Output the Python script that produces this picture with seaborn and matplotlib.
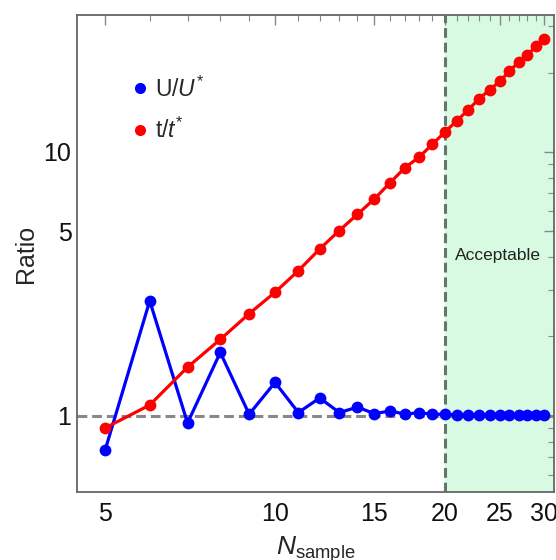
import numpy as np
import pandas as pd
import seaborn as sns
import matplotlib

matplotlib.use("Agg")
import matplotlib.pyplot as plt
from matplotlib.ticker import FixedLocator, FixedFormatter, NullFormatter, LogLocator

# Data
n_sample = list(range(5, 31))
u_ratio = [0.74, 2.73, 0.94, 1.74, 1.015, 1.34, 1.03, 1.17, 1.03, 1.08,
           1.02, 1.045, 1.015, 1.03, 1.015, 1.015, 1.01, 1.01, 1.01, 1.01,
           1.01, 1.01, 1.01, 1.01, 1.01, 1.01]
t_ratio = [0.90, 1.10, 1.53, 1.95, 2.44, 2.94, 3.55, 4.29, 5.04, 5.81,
           6.64, 7.66, 8.73, 9.56, 10.7, 11.9, 13.15, 14.44, 15.94, 17.2,
           18.5, 20.2, 21.9, 23.3, 25.2, 26.8]

x_major = [5, 10, 15, 20, 25, 30]
y_major = [1, 5, 10]
threshold = 20

df = pd.DataFrame({"N": n_sample, "U": u_ratio, "t": t_ratio})

sns.set_style("white")
plt.rcParams["font.family"] = ["Liberation Sans", "DejaVu Sans"]
plt.rcParams["mathtext.fontset"] = "custom"
plt.rcParams["mathtext.rm"] = "Liberation Sans"
plt.rcParams["mathtext.it"] = "Liberation Sans:italic"

fig, ax = plt.subplots(figsize=(5.56, 5.60), dpi=100)
fig.subplots_adjust(left=0.1385, right=0.9964, top=0.973, bottom=0.1214)

ax.set_xscale("log")
ax.set_yscale("log")
ax.set_xlim(4.46, 31.2)
ax.set_ylim(0.515, 33)

# acceptable region
ax.axvspan(threshold, 40, color="#d8f9e2", zorder=0)
ax.axvline(threshold, color="#5f786c", lw=2.2, ls=(0, (3.2, 1.6)), zorder=1)
ax.axhline(1, color="#888888", lw=2.2, ls=(0, (3.2, 1.6)), zorder=1)

sns.lineplot(data=df, x="N", y="U", ax=ax, color="#0000ff", lw=2.3,
             marker="o", markersize=8.5, markeredgewidth=0, label=r"U/$U^{*}$",
             zorder=3)
sns.lineplot(data=df, x="N", y="t", ax=ax, color="#ff0000", lw=2.3,
             marker="o", markersize=8.5, markeredgewidth=0, label=r"t/$t^{*}$",
             zorder=4)

ax.text(0.882, 0.495, "Acceptable", transform=ax.transAxes, ha="center",
        va="center", fontsize=12.5, color="#222222")

# ticks
ax.xaxis.set_major_locator(FixedLocator(x_major))
ax.xaxis.set_major_formatter(FixedFormatter([str(v) for v in x_major]))
ax.xaxis.set_minor_locator(FixedLocator([v for v in n_sample if v not in x_major]))
ax.xaxis.set_minor_formatter(NullFormatter())
ax.yaxis.set_major_locator(FixedLocator(y_major))
ax.yaxis.set_major_formatter(FixedFormatter([str(v) for v in y_major]))
ax.yaxis.set_minor_locator(LogLocator(base=10, subs=np.arange(2, 10), numticks=10))
ax.yaxis.set_minor_formatter(NullFormatter())

ax.tick_params(which="both", direction="in", top=True, right=True,
               color="#888888", labelsize=18, labelcolor="#111111")
ax.tick_params(which="major", length=7, width=1)
ax.tick_params(which="minor", length=4, width=0.8)
ax.tick_params(axis="x", which="major", pad=7)
ax.tick_params(axis="y", which="major", pad=4)

for sp in ax.spines.values():
    sp.set_color("#666666")
    sp.set_linewidth(1.3)

ax.set_xlabel(r"$N_{\mathrm{sample}}$", fontsize=19, labelpad=6)
ax.set_ylabel("Ratio", fontsize=18, labelpad=4)

leg = ax.legend(loc="upper left", bbox_to_anchor=(0.075, 0.915), frameon=False,
                fontsize=16.5, handlelength=0.6, handletextpad=0.35,
                labelspacing=0.7)
for h in leg.legend_handles:
    h.set_linestyle("none")
    h.set_markersize(8)

plt.savefig("out.png", dpi=100)
